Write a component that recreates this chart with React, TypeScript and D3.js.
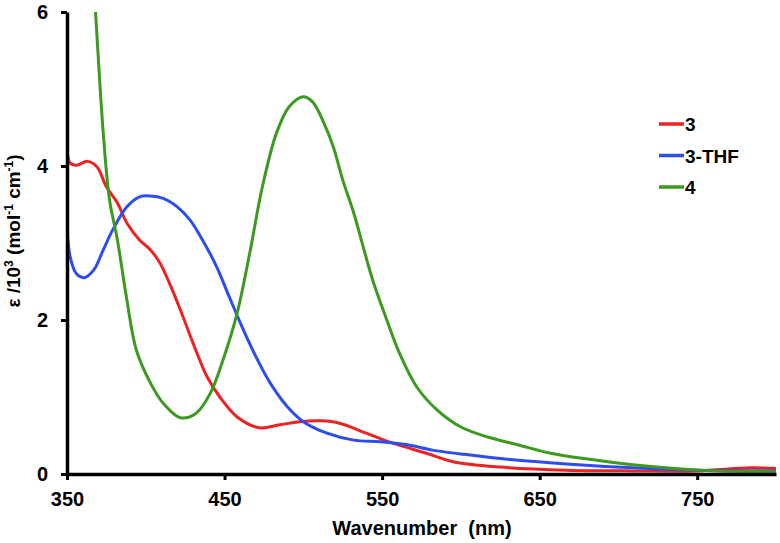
import { useEffect, useRef } from 'react'
import * as d3 from 'd3'

const NM_3 = [350, 352, 356, 363, 369, 375, 382, 388, 396, 403, 409, 415, 422, 430, 439, 447, 458, 472, 485, 498, 511, 523, 540, 557, 578, 595, 625, 667, 709, 750, 784, 800]
const EPS_3 = [4.2, 4.04, 4.01, 4.06, 3.99, 3.73, 3.52, 3.26, 3.04, 2.91, 2.74, 2.48, 2.13, 1.7, 1.26, 1.0, 0.74, 0.6, 0.64, 0.68, 0.69, 0.66, 0.53, 0.4, 0.27, 0.16, 0.09, 0.05, 0.04, 0.04, 0.08, 0.07]

const NM_THF = [350, 352, 356, 361, 367, 373, 379, 388, 396, 403, 411, 420, 428, 436, 445, 453, 462, 471, 479, 490, 500, 515, 532, 549, 566, 582, 600, 625, 667, 709, 750, 800]
const EPS_THF = [3.21, 2.82, 2.6, 2.55, 2.65, 2.91, 3.17, 3.47, 3.6, 3.61, 3.58, 3.47, 3.3, 3.04, 2.69, 2.3, 1.87, 1.48, 1.18, 0.87, 0.68, 0.53, 0.44, 0.42, 0.38, 0.31, 0.26, 0.2, 0.13, 0.08, 0.05, 0.04]

const NM_4 = [362, 368, 373, 377, 382, 388, 394, 403, 411, 422, 432, 441, 449, 458, 466, 474, 483, 491, 500, 506, 513, 519, 525, 532, 538, 544, 553, 561, 572, 585, 600, 617, 636, 657, 678, 709, 752, 800]
const EPS_4 = [8.0, 6.03, 4.43, 3.56, 3.04, 2.26, 1.61, 1.18, 0.92, 0.73, 0.79, 1.05, 1.48, 2.09, 2.87, 3.73, 4.43, 4.77, 4.9, 4.83, 4.56, 4.25, 3.82, 3.39, 2.95, 2.52, 2.0, 1.57, 1.13, 0.83, 0.61, 0.48, 0.38, 0.27, 0.2, 0.12, 0.05, 0.03]

const SERIES = [
  { name: '3', nm: NM_3, eps: EPS_3, color: '#ee2222' },
  { name: '3-THF', nm: NM_THF, eps: EPS_THF, color: '#2c4ef0' },
  { name: '4', nm: NM_4, eps: EPS_4, color: '#3b9a1f' },
]

const X_TICKS = [350, 450, 550, 650, 750]
const Y_TICKS = [0, 2, 4, 6]

const FONT = 'Arial, "Liberation Sans", sans-serif'

export default function App() {
  const svgRef = useRef<SVGSVGElement>(null)

  useEffect(() => {
    if (!svgRef.current) return
    const svg = d3.select(svgRef.current)
    svg.selectAll('*').remove()

    const W = 780
    const x = d3.scaleLinear().domain([350, 800]).range([67, 776])
    const y = d3.scaleLinear().domain([0, 6]).range([474, 12])

    svg.append('clipPath').attr('id', 'plot')
      .append('rect').attr('x', 67).attr('y', 12).attr('width', W - 67).attr('height', 462)

    // Curves
    const line = d3.line<[number, number]>()
      .x(d => x(d[0])).y(d => y(d[1]))
      .curve(d3.curveCatmullRom.alpha(0.5))

    const lines = svg.append('g').attr('clip-path', 'url(#plot)')
    SERIES.forEach(s => {
      const pts = s.nm.map((v, i) => [v, s.eps[i]] as [number, number])
      lines.append('path').datum(pts)
        .attr('d', line).attr('fill', 'none')
        .attr('stroke', s.color).attr('stroke-width', 3)
        .attr('stroke-linejoin', 'round')
    })

    // Axes
    const xAxis = d3.axisBottom(x).tickValues(X_TICKS).tickSize(6).tickSizeOuter(0).tickPadding(12)
    const gx = svg.append('g').attr('transform', `translate(0,${y(0)})`).call(xAxis)
    gx.select('.domain').attr('stroke', '#000').attr('stroke-width', 3.5)
    gx.selectAll('.tick line').attr('stroke', '#000').attr('stroke-width', 3)
    gx.selectAll('.tick text').attr('font-family', FONT).attr('font-size', 20)
      .attr('font-weight', 'bold').attr('fill', '#000')

    const yAxis = d3.axisLeft(y).tickValues(Y_TICKS).tickSize(6).tickSizeOuter(0).tickPadding(13)
      .tickFormat(d => String(d))
    const gy = svg.append('g').attr('transform', `translate(${x(350)},0)`).call(yAxis)
    gy.select('.domain').attr('stroke', '#000').attr('stroke-width', 3.5)
    gy.selectAll('.tick line').attr('stroke', '#000').attr('stroke-width', 3)
    gy.selectAll('.tick text').attr('font-family', FONT).attr('font-size', 20)
      .attr('font-weight', 'bold').attr('fill', '#000')

    // Axis titles
    svg.append('text').attr('x', 422).attr('y', 535)
      .attr('text-anchor', 'middle').attr('font-family', FONT).attr('font-size', 20)
      .attr('font-weight', 'bold').attr('xml:space', 'preserve')
      .text('Wavenumber  (nm)')

    const yt = svg.append('text')
      .attr('transform', 'translate(20,231) rotate(-90)')
      .attr('text-anchor', 'middle').attr('font-family', FONT).attr('font-size', 19)
      .attr('font-weight', 'bold')
    yt.append('tspan').text('ε /10')
    yt.append('tspan').attr('font-size', 12).attr('dy', -7).text('3')
    yt.append('tspan').attr('dy', 7).text(' (mol')
    yt.append('tspan').attr('font-size', 12).attr('dy', -7).text('-1')
    yt.append('tspan').attr('dy', 7).text(' cm')
    yt.append('tspan').attr('font-size', 12).attr('dy', -7).text('-1')
    yt.append('tspan').attr('dy', 7).text(')')

    // Legend
    const lg = svg.append('g').attr('transform', 'translate(659,124)')
    SERIES.forEach((s, i) => {
      lg.append('line').attr('x1', 0).attr('x2', 25).attr('y1', i * 31.5).attr('y2', i * 31.5)
        .attr('stroke', s.color).attr('stroke-width', 3.5)
      lg.append('text').attr('x', 26).attr('y', i * 31.5 + 7)
        .attr('font-family', FONT).attr('font-size', 19).attr('font-weight', 'bold')
        .text(s.name)
    })
  }, [])

  return (
    <svg ref={svgRef} width={780} height={543}
      style={{ position: 'absolute', left: 0, top: 0, background: '#fff' }} />
  )
}
